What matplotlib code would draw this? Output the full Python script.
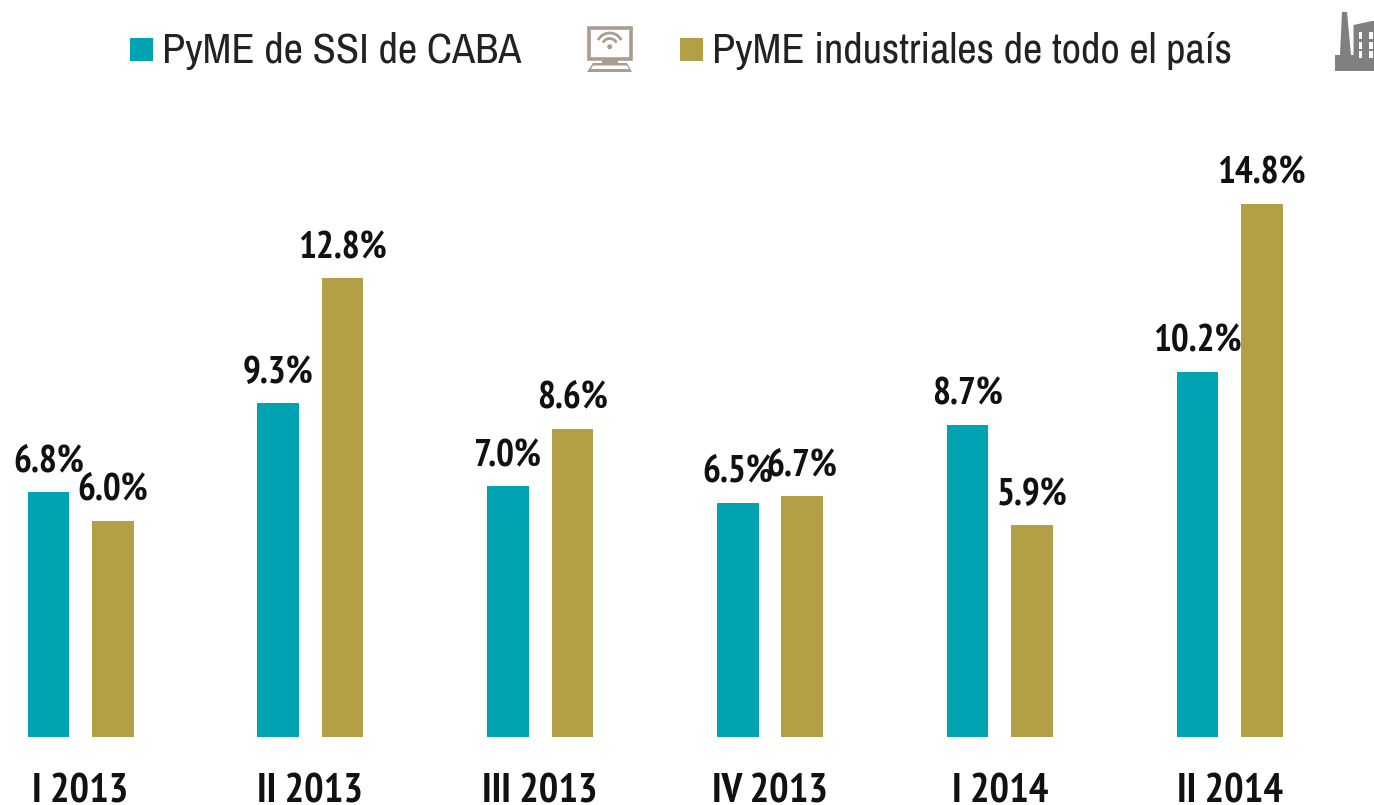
import numpy as np
import matplotlib
matplotlib.use("Agg")
import matplotlib.pyplot as plt
from matplotlib.patches import Rectangle, Polygon, Arc, Circle

# Data (bar heights, labels are these rounded to 1 decimal)
periods = ["I 2013", "II 2013", "III 2013", "IV 2013", "I 2014", "II 2014"]
ssi_caba = [6.81, 9.28, 6.98, 6.52, 8.69, 10.16]
pyme_pais = [6.02, 12.76, 8.58, 6.70, 5.90, 14.83]
legend_labels = ["PyME de SSI de CABA", "PyME industriales de todo el país"]

TEAL = "#00a3b2"
GOLD = "#b39f45"
ICON_PC = "#a99d8f"
ICON_FACTORY = "#808080"
NARROW_BOLD = ["PT Sans Narrow", "Liberation Sans", "DejaVu Sans"]
NARROW = ["Archivo Narrow", "Liberation Sans", "DejaVu Sans"]

W, H = 1374, 805
fig = plt.figure(figsize=(W / 100, H / 100), dpi=100)

# Bars: axes fills the figure, scale fitted to the reference
ax = fig.add_axes([0, 0, 1, 1])
x_step = 229.8
y_scale = 35.95
ax.set_xlim(-80.6 / x_step, (W - 80.6) / x_step)
ax.set_ylim(-(H - 737) / y_scale, 737 / y_scale)
ax.axis("off")

x = np.arange(len(periods))
offset = 32.2 / x_step
width = 41.5 / x_step
ax.bar(x - offset, ssi_caba, width, color=TEAL)
ax.bar(x + offset, pyme_pais, width, color=GOLD)

for i, name in enumerate(periods):
    ax.annotate(name, (i, 0), xytext=(0, -65), textcoords="offset pixels",
                ha="center", va="baseline", fontsize=29.5, fontweight="bold",
                family=NARROW_BOLD, color="#111111")
    ax.annotate(f"{ssi_caba[i]:.1f}%", (i - offset, ssi_caba[i]), xytext=(0, 20),
                textcoords="offset pixels", ha="center", va="baseline",
                fontsize=27, fontweight="bold", family=NARROW_BOLD, color="#111111")
    ax.annotate(f"{pyme_pais[i]:.1f}%", (i + offset, pyme_pais[i]), xytext=(0, 20),
                textcoords="offset pixels", ha="center", va="baseline",
                fontsize=27, fontweight="bold", family=NARROW_BOLD, color="#111111")

# Overlay in pixels for the legend and icons
ov = fig.add_axes([0, 0, 1, 1])
ov.set_xlim(0, W)
ov.set_ylim(H, 0)
ov.axis("off")
ov.patch.set_alpha(0)

ov.add_patch(Rectangle((130, 38), 23, 23, color=TEAL, lw=0))
ov.text(162, 63, legend_labels[0], fontsize=30.5, family=NARROW, va="baseline", color="#222222")
ov.add_patch(Rectangle((680, 38), 23, 23, color=GOLD, lw=0))
ov.text(712, 63, legend_labels[1], fontsize=30.5, family=NARROW, va="baseline", color="#222222")

# Computer icon
ov.add_patch(Rectangle((588.5, 28.5), 42, 31, fc="white", ec=ICON_PC, lw=2.6))
ov.add_patch(Polygon([(602, 60), (618, 60), (618, 63), (627, 63), (632, 72), (587, 72),
                      (593, 63), (602, 63)], color=ICON_PC, lw=0))
ov.add_patch(Polygon([(593, 65.5), (627, 65.5), (629, 69), (591, 69)], color="white", lw=0))
ov.add_patch(Arc((609.7, 46), 26, 26, theta1=207, theta2=333, color=ICON_PC, lw=2))
ov.add_patch(Arc((609.7, 46), 15, 15, theta1=207, theta2=333, color=ICON_PC, lw=2))
ov.add_patch(Circle((609.7, 46.7), 2.5, color=ICON_PC, lw=0))

# Factory icon
ov.add_patch(Polygon([(1342, 12), (1347, 12), (1351, 55), (1374, 55), (1374, 71),
                      (1335, 71), (1335, 55), (1340, 55)], color=ICON_FACTORY, lw=0))
ov.add_patch(Polygon([(1353.5, 25), (1372, 21), (1374, 21), (1374, 60), (1353.5, 60)],
                     color=ICON_FACTORY, lw=0))
for wx in (1358.5, 1369):
    for wy in (32, 42, 51):
        ov.add_patch(Rectangle((wx, wy), 3.8, 7, color="white", lw=0))

fig.savefig("out.png", dpi=100)
